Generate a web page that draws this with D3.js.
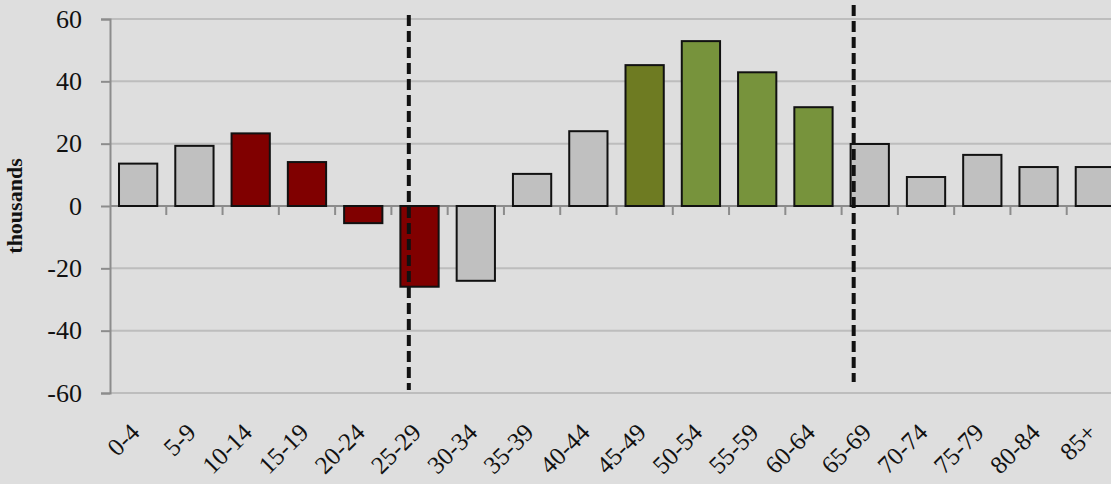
<!DOCTYPE html>
<html>
	<head>
		<meta charset=utf-8>
		<title>Change by age group</title>
		<style type="text/css">
			body { margin: 0; background: #dedede; }
			svg { display: block; }
			svg text { font-family: "Liberation Serif", "DejaVu Serif", serif; }
		</style>
		<script src="https://cdnjs.cloudflare.com/ajax/libs/d3/7.8.5/d3.min.js"></script>
	</head>
	<body>
		<script>
			// data (thousands)
			var categories = ["0-4", "5-9", "10-14", "15-19", "20-24", "25-29", "30-34", "35-39", "40-44",
				"45-49", "50-54", "55-59", "60-64", "65-69", "70-74", "75-79", "80-84", "85+"];
			var values = [13.6, 19.3, 23.3, 14.1, -5.5, -25.9, -24.0, 10.3, 24.0,
				45.2, 52.9, 42.9, 31.7, 19.9, 9.3, 16.4, 12.5, 12.5];
			var groups = ["other", "other", "young", "young", "young", "young", "other", "other", "other",
				"peak", "older", "older", "older", "other", "other", "other", "other", "other"];
			var yTicks = [-60, -40, -20, 0, 20, 40, 60];
			// dashed dividers: category they sit on, and their vertical extent in thousands
			var dividerCats = ["25-29", "65-69"];
			var dividerTop = [61.3, 64.5];
			var dividerBottom = [-59.0, -56.5];

			var colours = {other: "#c0c0c0", young: "#800000", peak: "#6e7b22", older: "#77933c"};
			var dividerShift = [0.22, 0.08]; // fraction of a bar width

			var width = 1111, height = 484;
			var margin = {top: 19, left: 110, bottom: 91};

			var svg = d3.select("body").append("svg")
				.attr("width", width)
				.attr("height", height);

			svg.append("rect")
				.attr("width", width)
				.attr("height", height)
				.attr("fill", "#dedede");

			//scales - the last band runs off the right edge like the original
			var x = d3.scaleBand()
				.domain(categories)
				.range([margin.left, 1123])
				.paddingInner(0.32)
				.paddingOuter(0.16);

			var y = d3.scaleLinear()
				.domain([-60, 60])
				.range([height - margin.bottom, margin.top]);

			var step = x.step();

			//grid lines
			svg.append("g").selectAll("line")
				.data(yTicks.filter(function(d) { return d !== 0; }))
				.enter().append("line")
				.attr("x1", margin.left)
				.attr("x2", width)
				.attr("y1", function(d) { return y(d); })
				.attr("y2", function(d) { return y(d); })
				.attr("stroke", "#bdbdbd")
				.attr("stroke-width", 2);

			//y axis (plain hyphen for negatives, like the original)
			var yAxis = d3.axisLeft(y)
				.tickValues(yTicks)
				.tickFormat(function(d) { return String(d); })
				.tickSize(9)
				.tickPadding(19);

			var gy = svg.append("g")
				.attr("transform", "translate(" + margin.left + ",0)")
				.call(yAxis)
				.attr("font-family", null)
				.attr("font-size", null);
			gy.select(".domain").attr("stroke", "#8c8c8c").attr("stroke-width", 2);
			gy.selectAll(".tick line").attr("stroke", "#8c8c8c").attr("stroke-width", 2);
			gy.selectAll(".tick text")
				.attr("fill", "#111")
				.attr("font-size", 26);

			//zero line and category ticks
			svg.append("line")
				.attr("x1", margin.left)
				.attr("x2", width)
				.attr("y1", y(0))
				.attr("y2", y(0))
				.attr("stroke", "#8c8c8c")
				.attr("stroke-width", 2);

			svg.append("g").selectAll("line")
				.data(categories.slice(1))
				.enter().append("line")
				.attr("x1", function(d) { return x(d) - step * 0.16; })
				.attr("x2", function(d) { return x(d) - step * 0.16; })
				.attr("y1", y(0))
				.attr("y2", y(0) + 9)
				.attr("stroke", "#8c8c8c")
				.attr("stroke-width", 2);

			//bars
			svg.append("g").selectAll("rect")
				.data(categories)
				.enter().append("rect")
				.attr("x", function(d) { return x(d); })
				.attr("width", x.bandwidth())
				.attr("y", function(d, i) { return y(Math.max(0, values[i])); })
				.attr("height", function(d, i) { return Math.abs(y(values[i]) - y(0)); })
				.attr("fill", function(d, i) { return colours[groups[i]]; })
				.attr("stroke", "#111")
				.attr("stroke-width", 2);

			//category labels, rotated
			svg.append("g").selectAll("text")
				.data(categories)
				.enter().append("text")
				.attr("transform", function(d) {
					return "translate(" + (x(d) + x.bandwidth() / 2 + 3) + "," + (y(-60) + 41) + ") rotate(-45)";
				})
				.attr("text-anchor", "end")
				.attr("fill", "#111")
				.attr("font-size", 25)
				.text(function(d) { return d; });

			//dashed dividers
			svg.append("g").selectAll("line")
				.data(dividerCats)
				.enter().append("line")
				.attr("x1", function(d, i) { return x(d) + x.bandwidth() * dividerShift[i]; })
				.attr("x2", function(d, i) { return x(d) + x.bandwidth() * dividerShift[i]; })
				.attr("y1", function(d, i) { return y(dividerTop[i]); })
				.attr("y2", function(d, i) { return y(dividerBottom[i]); })
				.attr("stroke", "#111")
				.attr("stroke-width", 4)
				.attr("stroke-dasharray", "11,5");

			// y axis label
			svg.append("text")
				.attr("transform", "rotate(-90)")
				.attr("x", -y(0))
				.attr("y", 22)
				.attr("text-anchor", "middle")
				.attr("fill", "#111")
				.attr("font-size", 22)
				.attr("font-weight", "bold")
				.text("thousands");
		</script>
	</body>
</html>
